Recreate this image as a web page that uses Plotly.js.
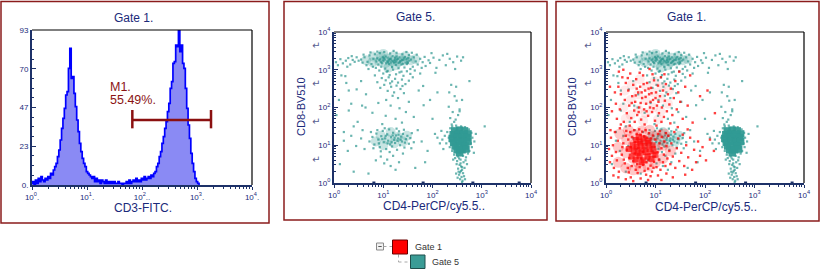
<!DOCTYPE html>
<html><head><meta charset="utf-8">
<script src="https://cdn.plot.ly/plotly-3.0.1.min.js"></script>
<style>html,body{margin:0;padding:0;background:#fff;overflow:hidden}#chart{width:827px;height:270px}</style>
</head><body><div id="chart"></div>
<script>
// ---------- DATA ----------
// Panel 1: CD3-FITC histogram (channels on a log scale, counts per channel)
const cd3FirstBinLog = 0.0;
const cd3BinStepLog = 0.025;
const cd3Counts = [1,2,0,3,1,4,2,5,3,2,4,3,5,4,7,6,9,11,13,17,21,27,34,40,46,54,56,70,82,64,65,55,47,39,32,25,20,16,13,11,8,7,6,5,4,
  5,2,4,2,3,1,3,2,1,3,1,2,1,2,1,2,1,1,2,1,1,0,1,1,2,1,3,1,2,3,2,4,2,3,2,4,3,5,3,4,5,4,6,5,7,8,11,13,17,20,25,29,34,38,
  44,49,58,62,73,74,84,83,93,80,84,73,70,58,46,36,28,19,13,8,4,2,1,0];
const cd3Ticks = ["10<sup>0</sup>.", "10<sup>1</sup>.", "10<sup>2</sup>..", "10<sup>3</sup>.", "10<sup>4</sup>."];
const countTickVals = [0, 23.25, 46.5, 69.75, 93];
const countTickText = ["0.", "23", "47", "70", "93"];
const m1Range = [66.7, 1798];
const m1Level = 39;
const m1Cap = [34, 45];
const m1Label = ["M1.", "55.49%."];

// Panels 2-3: events as [log10 CD4, log10 CD8]
const gate5Events = [
 [0.92,3.25],[1.01,3.31],[1.08,3.22],[1.15,3.29],[1.22,3.19],[1.28,3.27],[1.35,3.23],[1.42,3.30],[1.49,3.21],[0.97,3.18],
 [1.05,3.35],[1.12,3.15],[1.19,3.36],[1.26,3.13],[1.33,3.33],[1.40,3.16],[1.47,3.28],[1.53,3.24],[0.88,3.30],[0.95,3.21],
 [1.03,3.27],[1.10,3.20],[1.17,3.24],[1.24,3.32],[1.31,3.18],[1.38,3.26],[1.45,3.19],[1.51,3.31],[0.90,3.14],[0.99,3.34],
 [1.06,3.17],[1.13,3.28],[1.20,3.22],[1.27,3.35],[1.34,3.20],[1.41,3.25],[1.48,3.15],[1.56,3.27],[0.86,3.22],[1.00,3.24],
 [1.09,3.32],[1.16,3.19],[1.23,3.26],[1.30,3.29],[1.37,3.14],[1.44,3.34],[1.50,3.18],[0.94,3.28],[1.11,3.25],[1.25,3.21],
 [0.55,3.27],[0.62,3.33],[0.68,3.21],[0.72,3.38],[0.76,3.15],[0.80,3.29],[0.83,3.41],[0.79,3.08],[0.66,3.12],[0.58,3.19],
 [0.85,3.05],[0.93,3.44],[1.02,3.47],[1.14,3.43],[1.27,3.45],[1.39,3.41],[1.52,3.39],[1.62,3.33],[1.66,3.22],[1.70,3.14],
 [1.75,3.29],[1.80,3.20],[1.86,3.10],[1.60,3.08],[1.55,3.02],[1.43,3.06],[1.31,3.04],[1.18,3.07],[1.04,3.03],[0.96,3.08],
 [1.09,2.97],[1.37,2.95],[0.74,3.46],[0.60,3.40],[1.68,3.40],[1.84,3.34],[1.92,3.25],[0.50,3.24],[1.21,3.50],[0.88,3.48],
 [1.58,3.45],[1.47,3.47],[0.70,3.02],[1.78,3.05],[1.64,2.98],
 [0.04,3.20],[0.08,3.12],[0.13,3.28],[0.18,3.17],[0.24,3.24],[0.29,3.31],[0.33,3.14],[0.38,3.26],[0.42,3.21],[0.46,3.33],[0.27,3.08],[0.36,3.36],
 [1.95,3.18],[2.02,3.32],[2.08,3.05],[2.14,3.26],[2.21,3.38],[2.27,3.12],[2.35,3.29],[2.42,3.20],[2.50,3.35],[2.58,3.24],[2.06,2.92],[2.30,3.42],[2.46,3.02],[1.98,3.44],[2.62,3.33],
 [0.92,2.98],[1.00,2.90],[1.07,2.95],[1.13,2.86],[1.20,3.00],[1.26,2.88],[1.33,2.93],[1.41,2.84],[1.48,2.96],[1.55,2.89],
 [0.97,2.78],[1.05,2.72],[1.11,2.80],[1.18,2.69],[1.24,2.76],[1.30,2.66],[1.38,2.74],[1.45,2.62],[1.02,2.60],[1.16,2.55],
 [1.27,2.58],[1.35,2.49],[1.09,2.44],[1.22,2.40],[0.94,2.52],[1.42,2.38],[1.19,2.31],[1.30,2.25],[1.06,2.20],[0.88,2.67],
 [1.52,2.71],[1.60,2.80],[0.83,2.85],[1.14,2.64],[1.39,2.57],
 [0.90,2.12],[1.15,2.05],[1.33,1.98],[0.78,1.86],[1.05,1.78],[1.25,1.70],[1.46,1.88],[0.64,2.00],[1.52,2.15],[1.62,1.75],
 [0.48,1.62],[0.98,1.56],[1.38,1.60],[1.82,2.06],[2.10,2.40],[2.48,2.55],[2.60,2.20],[2.55,1.90],[0.30,2.45],[0.55,2.70],
 [0.15,2.85],[1.72,2.45],[2.00,1.70],[0.20,1.35],[3.06,1.50],[1.81,2.57],[0.23,2.83],[0.46,2.48],[0.30,1.92],[0.57,2.05],
 [0.10,2.20],[0.05,1.80],[0.35,2.10],[0.65,2.35],[0.12,0.50],[0.40,0.30],[0.70,0.25],[1.65,0.40],[1.85,0.55],[2.05,1.30],
 [1.95,2.20],[2.75,2.70],[1.75,2.90],[0.25,2.65],
 [2.38,2.60],[2.45,2.30],[2.49,2.18],[2.33,2.02],[2.41,1.88],[2.36,1.72],[2.52,1.80],[2.44,1.62],[2.39,1.55],[2.55,1.95],[2.47,1.68],[2.34,2.40],
 [0.72,1.10],[0.78,1.22],[0.82,1.02],[0.86,1.31],[0.90,1.15],[0.93,0.95],[0.96,1.24],[0.99,1.38],[1.01,1.08],[1.04,1.18],
 [1.06,0.90],[1.08,1.29],[1.10,1.12],[1.12,1.42],[1.14,1.02],[1.16,1.21],[1.18,0.97],[1.20,1.33],[1.22,1.14],[1.24,1.06],
 [1.26,1.26],[1.28,0.88],[1.30,1.18],[1.32,1.37],[1.34,1.00],[1.36,1.23],[1.38,1.10],[1.40,1.30],[1.43,0.94],[1.46,1.16],
 [1.49,1.25],[1.52,1.04],[1.55,1.19],[1.58,1.32],[1.62,1.08],[0.88,1.40],[0.95,0.84],[1.03,1.45],[1.13,0.82],[1.27,1.44],
 [1.42,1.41],[1.57,0.92],[0.80,0.92],[0.75,1.35],[1.19,1.26],[1.09,1.05],[1.29,1.12],[0.98,1.16],[1.35,1.15],[1.17,1.08],
 [1.23,1.20],[1.05,1.25],[1.31,1.28],[1.44,1.07],[0.91,1.05],
 [0.20,1.12],[0.35,1.25],[0.45,0.98],[0.55,1.18],[0.62,0.90],[0.58,1.40],[0.40,1.50],[0.28,0.85],
 [0.95,0.70],[1.08,0.62],[1.20,0.72],[1.32,0.55],[1.15,0.45],[1.25,0.35],[1.40,0.78],[1.02,0.52],[0.85,0.60],[1.70,1.40],[1.78,1.10],[1.90,0.85],
 [2.30,1.35],[2.33,1.20],[2.28,1.05],[2.35,0.95],[2.25,1.25],[2.20,1.15],[2.36,1.45],[2.40,1.50],[2.48,1.52],[2.58,1.50],
 [2.66,1.48],[2.74,1.42],[2.79,1.33],[2.81,1.20],[2.78,1.05],[2.80,0.95],[2.75,0.85],[2.72,0.78],[2.40,0.85],[2.37,1.10],
 [2.44,0.75],[2.52,0.70],[2.62,0.72],[2.68,0.68],[2.57,0.62],[2.50,0.58],[2.63,0.55],[2.55,0.48],[2.60,0.42],[2.52,0.38],
 [2.58,0.32],[2.62,0.26],[2.54,0.22],[2.59,0.16],[2.56,0.10],[2.61,0.06],[2.53,0.30],[2.65,0.40],[2.49,0.50],[2.67,0.60],
 [2.57,0.52],[2.60,0.35],[2.56,0.28],[2.64,0.18],[2.51,0.14],[2.58,0.44],[2.54,0.65],[2.46,0.66],[2.70,0.50],[2.85,1.10],
 [2.88,1.30],[2.15,1.05],[2.22,0.90],[2.10,1.20],[2.18,1.38],[2.84,0.80],[2.42,0.62],[2.60,0.02],[2.66,0.10],[2.48,0.25]
];
const gate5Core = [
 [2.45,1.38],[2.55,1.40],[2.65,1.38],[2.72,1.30],[2.42,1.28],[2.52,1.30],[2.62,1.28],[2.40,1.18],[2.50,1.20],[2.60,1.18],
 [2.70,1.20],[2.43,1.08],[2.53,1.10],[2.63,1.08],[2.72,1.10],[2.46,0.98],[2.56,1.00],[2.66,0.98],[2.50,0.88],[2.60,0.88],
 [2.68,0.90],[2.55,0.80]
];
// density haze of the CD8+ and double-negative Gate 5 populations
const gate5Haze = [
 [0.65,3.25],[0.78,3.20],[0.80,3.35],[0.92,3.22],[0.95,3.35],[1.05,3.18],[1.08,3.30],[1.18,3.22],[1.20,3.36],[1.30,3.20],
 [1.32,3.32],[1.42,3.24],[1.45,3.36],[1.55,3.25],[1.65,3.28],[1.00,3.42],[1.25,3.12],[1.10,3.05],
 [0.85,1.10],[0.95,1.25],[1.00,1.00],[1.10,1.15],[1.15,1.35],[1.22,1.05],[1.30,1.22],[1.40,1.10],[1.48,1.25]
];
const floorEvents = [0.81, 1.81, 2.82, 3.76];
const gate1Core = [
 [0.52,0.70],[0.60,0.62],[0.68,0.72],[0.76,0.60],[0.84,0.70],[0.92,0.64],[0.56,0.85],[0.64,0.80],[0.72,0.88],[0.80,0.82],
 [0.88,0.90],[0.96,0.84],[0.54,1.00],[0.62,0.96],[0.70,1.04],[0.78,0.98],[0.86,1.06],[0.94,1.00],[0.60,1.14],[0.68,1.10],
 [0.76,1.18],[0.84,1.12],[0.72,0.55],[0.66,1.22],[1.00,0.75],[0.46,0.90]
];
// density haze: lower (CD8-) and upper (CD8 dim) Gate 1 populations
const gate1HazeLow = [
 [0.25,0.55],[0.25,0.95],[0.28,1.30],[0.40,0.40],[0.40,0.80],[0.42,1.15],[0.45,1.40],[0.55,0.35],[0.55,0.65],[0.55,1.00],
 [0.58,1.28],[0.70,0.40],[0.70,0.75],[0.70,1.10],[0.72,1.38],[0.85,0.45],[0.85,0.80],[0.85,1.15],[0.88,1.40],[1.00,0.55],
 [1.00,0.90],[1.02,1.25],[1.15,0.65],[1.15,1.00],[1.18,1.30],[1.30,0.85],[0.62,0.85],[0.78,0.95],[0.92,0.70],[0.65,0.55]
];
const gate1HazeHigh = [
 [0.35,2.00],[0.38,2.45],[0.50,1.80],[0.50,2.20],[0.52,2.60],[0.65,1.95],[0.65,2.35],[0.68,2.75],[0.80,1.85],[0.80,2.20],
 [0.82,2.55],[0.95,2.00],[0.95,2.40],[0.98,2.70],[1.10,1.90],[1.10,2.25],[1.12,2.55],[1.25,2.10],[1.27,2.45],[0.40,1.70],
 [0.75,1.65],[1.05,1.68]
];
const gate1Events = [
 [0.32,0.75],[0.35,1.05],[0.38,0.52],[0.40,1.25],[0.42,0.88],[0.44,0.40],[0.45,1.15],[0.47,0.66],[0.49,1.35],[0.50,0.95],
 [0.52,0.45],[0.53,1.22],[0.55,0.58],[0.57,1.40],[0.58,0.78],[0.60,0.35],[0.62,1.30],[0.63,0.50],[0.65,0.92],[0.67,1.42],
 [0.68,0.42],[0.70,1.28],[0.71,0.65],[0.73,1.36],[0.75,0.48],[0.77,1.24],[0.78,0.32],[0.80,1.40],[0.82,0.55],[0.83,1.20],
 [0.85,0.38],[0.87,1.32],[0.88,0.78],[0.90,0.46],[0.91,1.18],[0.93,0.30],[0.95,1.26],[0.97,0.56],[0.98,0.95],[1.00,1.15],
 [1.02,0.42],[1.04,0.82],[1.05,1.30],[1.07,0.62],[1.08,1.05],[1.10,0.35],[1.12,0.92],[1.13,1.22],[1.15,0.55],[1.17,0.75],
 [1.18,1.10],[1.20,0.45],[1.22,0.98],[1.24,0.65],[1.26,1.25],[1.28,0.85],[1.30,0.50],[0.36,0.62],[0.41,1.38],[0.46,0.28],
 [0.59,1.08],[0.74,0.82],[0.86,0.62],[0.99,0.70],[1.09,1.38],[1.21,1.32],[0.33,0.95],[0.64,0.26],[0.81,0.22],[0.96,0.40],
 [0.06,0.90],[0.08,0.55],[0.10,1.20],[0.12,0.72],[0.14,1.00],[0.16,0.40],[0.18,1.35],[0.20,0.82],[0.22,0.60],[0.24,1.12],
 [0.26,0.30],[0.28,1.45],[0.15,0.20],[0.25,0.15],[0.09,1.40],[1.32,1.05],[1.35,0.70],[1.38,1.35],[1.40,0.40],[1.43,0.92],
 [1.46,1.18],[1.48,0.58],[1.52,0.80],[1.55,1.28],[1.58,0.45],[1.62,1.00],[1.66,0.68],[1.70,1.20],[1.74,0.35],[1.78,0.88],
 [1.82,0.55],[1.86,1.10],[1.90,0.72],[1.95,0.95],[2.02,0.60],[2.10,1.15],[0.50,0.15],[0.70,0.12],[0.90,0.18],[1.05,0.20],
 [1.22,0.25],[0.40,0.10],[1.60,0.22],[1.35,0.15],[2.18,0.85],[1.45,1.48],[1.65,1.42],[0.55,0.05],[0.85,0.08],[1.12,0.08],
 [0.20,2.10],[0.22,1.70],[0.25,2.55],[0.28,1.95],[0.30,2.35],[0.33,2.80],[0.36,1.62],[0.38,2.20],[0.40,2.65],[0.42,1.85],
 [0.45,2.45],[0.47,2.05],[0.49,2.90],[0.51,1.72],[0.53,2.30],[0.55,2.60],[0.57,1.92],[0.59,2.15],[0.61,2.75],[0.63,1.80],
 [0.65,2.40],[0.67,2.00],[0.69,2.55],[0.71,1.68],[0.73,2.25],[0.75,2.85],[0.77,1.95],[0.79,2.45],[0.81,2.10],[0.83,2.65],
 [0.85,1.78],[0.87,2.35],[0.89,2.00],[0.91,2.52],[0.93,1.88],[0.95,2.20],[0.97,2.72],[0.99,1.65],[1.01,2.40],[1.03,2.05],
 [1.05,2.58],[1.07,1.85],[1.09,2.30],[1.11,2.80],[1.13,2.00],[1.15,2.45],[1.17,1.75],[1.19,2.18],[1.21,2.62],[1.23,1.90],
 [1.25,2.35],[1.28,2.08],[1.31,2.50],[1.34,1.80],[1.37,2.25],[1.40,2.70],[1.43,1.95],[1.46,2.40],[1.50,2.15],[1.55,1.70],
 [0.60,2.32],[0.70,2.12],[0.80,2.28],[0.90,2.15],[1.00,2.25],[0.66,1.88],[0.76,2.62],[0.86,2.50],[0.96,1.98],[1.06,2.15],
 [0.72,2.40],[0.82,1.90],[0.92,2.38],[0.62,2.50],[0.52,2.12],[0.58,1.62],[1.12,1.62],[0.44,2.78],[0.68,2.92],[0.94,2.88],
 [1.18,2.88],[0.30,1.55],[0.18,2.40],[0.12,1.90],[1.60,2.55],[1.65,2.05],[1.70,2.85],[1.75,1.60],[0.35,3.00],[0.88,3.02],
 [0.78,1.55],[1.02,1.52],[0.48,1.52],[1.30,1.58],[0.26,2.95],[1.48,2.95],[2.05,2.45],[2.20,1.85],[1.90,2.30],[0.08,2.55]
];
const decadeTicks = ["10<sup>0</sup>", "10<sup>1</sup>", "10<sup>2</sup>", "10<sup>3</sup>", "10<sup>4</sup>"];
const panelTitles = ["Gate 1.", "Gate 5.", "Gate 1."];
const xTitles = ["CD3-FITC.", "CD4-PerCP/cy5.5..", "CD4-PerCP/cy5.5.."];
const yTitle = "CD8-BV510";
const legendItems = ["Gate 1", "Gate 5"];

// ---------- STYLE / LAYOUT ----------
const W = 827, H = 270;
const px = x => x / W, py = y => 1 - y / H;
const NAVY = '#1b2a7a', AXIS = '#1d3168', BORDER = '#8b1c1c';
const FONT = 'Liberation Sans, Arial, sans-serif';
const TEAL = '#2b968f';
const pow = v => Math.pow(10, v);
const decades = [1, 10, 100, 1000, 10000];
const minorVals = [];
for (let d = 0; d < 4; d++) for (let k = 2; k <= 9; k++) minorVals.push(k * Math.pow(10, d));
const histX = cd3Counts.map((_, i) => pow(cd3FirstBinLog + i * cd3BinStepLog));
const xs = a => a.map(p => pow(p[0])), ys = a => a.map(p => pow(p[1]));
const dots = (arr, xa, ya, marker) => ({x: xs(arr), y: ys(arr), type: 'scatter', mode: 'markers', xaxis: xa, yaxis: ya,
  marker: Object.assign({line: {width: 0}}, marker), hoverinfo: 'skip'});

const traces = [
  {x: histX, y: cd3Counts, type: 'scatter', mode: 'lines', xaxis: 'x', yaxis: 'y',
   line: {color: '#0000ff', width: 1.7, shape: 'hvh'}, fill: 'tozeroy', fillcolor: '#8a8af4', hoverinfo: 'skip'},
  {x: m1Range, y: [m1Level, m1Level], type: 'scatter', mode: 'lines', xaxis: 'x', yaxis: 'y',
   line: {color: '#8b1010', width: 2.5}, hoverinfo: 'skip'},
  {x: [m1Range[0], m1Range[0]], y: m1Cap, type: 'scatter', mode: 'lines', xaxis: 'x', yaxis: 'y',
   line: {color: '#8b1010', width: 2.5}, hoverinfo: 'skip'},
  {x: [m1Range[1], m1Range[1]], y: m1Cap, type: 'scatter', mode: 'lines', xaxis: 'x', yaxis: 'y',
   line: {color: '#8b1010', width: 2.5}, hoverinfo: 'skip'}
];
[['x2', 'y2'], ['x3', 'y3']].forEach(([xa, ya]) => {
  traces.push(dots(gate5Haze, xa, ya, {color: TEAL, size: 10, symbol: 'circle', opacity: 0.26}));
  traces.push(dots(gate5Events, xa, ya, {color: TEAL, size: 2.2, symbol: 'square', opacity: 0.7}));
  traces.push(dots(gate5Core, xa, ya, {color: '#309a93', size: 7.5, symbol: 'square', opacity: 0.95}));
  traces.push({x: floorEvents.map(pow), y: floorEvents.map(() => 1), type: 'scatter', mode: 'markers', cliponaxis: false,
    xaxis: xa, yaxis: ya, marker: {color: AXIS, size: 3, symbol: 'square'}, hoverinfo: 'skip'});
});
traces.push(dots(gate1HazeHigh, 'x3', 'y3', {color: '#ff3030', size: 10, symbol: 'circle', opacity: 0.1}));
traces.push(dots(gate1HazeLow, 'x3', 'y3', {color: '#ff1a1a', size: 11, symbol: 'circle', opacity: 0.24}));
traces.push(dots(gate1Events, 'x3', 'y3', {color: '#ff0000', size: 2.4, symbol: 'square', opacity: 0.75}));
traces.push(dots(gate1Core, 'x3', 'y3', {color: '#ff0a0a', size: 6, symbol: 'square', opacity: 0.7}));

const tickFont = {family: FONT, size: 8, color: NAVY};
function logX(domain, ticktext) {
  return {domain, type: 'log', range: [0, 4], tickvals: decades, ticktext, ticks: 'outside', ticklen: 3,
    tickcolor: AXIS, tickwidth: 1, showline: true, linecolor: AXIS, linewidth: 2, showgrid: false, zeroline: false,
    tickfont: tickFont, fixedrange: true,
    minor: {ticks: 'outside', ticklen: 2, tickcolor: AXIS, tickvals: minorVals, showgrid: false}};
}
function logY(domain, anchor) {
  return {domain, anchor, type: 'log', range: [0, 4], tickvals: decades, ticktext: decadeTicks, ticks: 'inside', ticklen: 4,
    tickcolor: AXIS, showline: true, linecolor: AXIS, linewidth: 2, showgrid: false, zeroline: false,
    tickfont: tickFont, fixedrange: true,
    minor: {ticks: 'inside', ticklen: 2, tickcolor: AXIS, tickvals: minorVals, showgrid: false}};
}

const shapes = [];
const borders = [[1, 1.5, 269, 223], [284, 1.5, 547, 220], [556, 1.5, 819, 221]];
borders.forEach(b => shapes.push({type: 'rect', xref: 'paper', yref: 'paper', x0: px(b[0]), x1: px(b[2]), y0: py(b[1]), y1: py(b[3]),
  line: {color: BORDER, width: 1.5}, layer: 'below'}));
['', '2', '3'].forEach(s => {
  const xr = 'x' + s + ' domain', yr = 'y' + s + ' domain';
  shapes.push({type: 'line', xref: xr, yref: yr, x0: 0, x1: 1, y0: 1, y1: 1, line: {color: '#000', width: 1.2}});
  shapes.push({type: 'line', xref: xr, yref: yr, x0: 1, x1: 1, y0: 0, y1: 1, line: {color: '#000', width: 1.2}});
});
shapes.push({type: 'rect', xref: 'paper', yref: 'paper', x0: px(376.5), x1: px(383.5), y0: py(243), y1: py(250),
  line: {color: '#8a8a8a', width: 1}, fillcolor: '#f2f2f2'});
shapes.push({type: 'line', xref: 'paper', yref: 'paper', x0: px(378.3), x1: px(381.7), y0: py(246.5), y1: py(246.5), line: {color: '#555', width: 1}});
[[383.5, 246.5, 392, 246.5], [398.5, 254.5, 398.5, 262], [398.5, 262, 410, 262]].forEach(l =>
  shapes.push({type: 'line', xref: 'paper', yref: 'paper', x0: px(l[0]), x1: px(l[2]), y0: py(l[1]), y1: py(l[3]),
    line: {color: '#a8a8a8', width: 1, dash: 'dot'}}));
shapes.push({type: 'rect', xref: 'paper', yref: 'paper', x0: px(392.5), x1: px(407.5), y0: py(240), y1: py(254),
  line: {color: '#6a0000', width: 1}, fillcolor: '#ff0000'});
shapes.push({type: 'rect', xref: 'paper', yref: 'paper', x0: px(410.5), x1: px(425), y0: py(255), y1: py(268.5),
  line: {color: '#1f4f4c', width: 1}, fillcolor: '#3a9c96'});

const ann = (x, y, text, o = {}) => Object.assign({xref: 'paper', yref: 'paper', x: px(x), y: py(y), text, showarrow: false,
  xanchor: 'center', yanchor: 'middle', font: {family: FONT, size: 12, color: NAVY}}, o);
const annotations = [
  ann(133, 18, panelTitles[0]), ann(415, 17, panelTitles[1]), ann(686, 17, panelTitles[2]),
  ann(143, 208, xTitles[0]), ann(434, 206, xTitles[1]), ann(706, 207, xTitles[2]),
  ann(301, 107, yTitle, {textangle: -90, font: {family: FONT, size: 11, color: NAVY}}),
  ann(572, 107, yTitle, {textangle: -90, font: {family: FONT, size: 11, color: NAVY}}),
  ann(108, 87, m1Label[0], {xanchor: 'left', font: {family: FONT, size: 12.5, color: '#8b1414'}}),
  ann(108, 100, m1Label[1], {xanchor: 'left', font: {family: FONT, size: 12.5, color: '#8b1414'}}),
  ann(413, 246.5, legendItems[0], {xanchor: 'left', font: {family: FONT, size: 9, color: '#333'}}),
  ann(430, 262, legendItems[1], {xanchor: 'left', font: {family: FONT, size: 9, color: '#333'}})
];
[3.64, 2.63, 1.62, 0.62].forEach(v => {
  ['2', '3'].forEach(s => annotations.push({xref: 'x' + s + ' domain', yref: 'y' + s, x: -0.09, y: v, text: '↵',
    showarrow: false, xanchor: 'center', font: {family: 'DejaVu Sans', size: 10, color: '#5a6090'}}));
});

const layout = {
  width: W, height: H, margin: {l: 0, r: 0, t: 0, b: 0}, paper_bgcolor: '#fff', plot_bgcolor: '#fff',
  showlegend: false, font: {family: FONT},
  xaxis: logX([px(32), px(252)], cd3Ticks),
  yaxis: {domain: [py(185), py(30)], range: [0, 93], tickvals: countTickVals, ticktext: countTickText, ticks: 'inside',
    ticklen: 4, tickcolor: AXIS, showline: true, linecolor: AXIS, linewidth: 2, showgrid: false, zeroline: false,
    tickfont: tickFont, fixedrange: true,
    minor: {ticks: 'inside', ticklen: 2, tickcolor: AXIS, tickmode: 'linear', tick0: 0, dtick: 93 / 16, showgrid: false}},
  xaxis2: Object.assign(logX([px(334), px(531)], decadeTicks), {anchor: 'y2'}),
  yaxis2: logY([py(183), py(32)], 'x2'),
  xaxis3: Object.assign(logX([px(606), px(804)], decadeTicks), {anchor: 'y3'}),
  yaxis3: logY([py(183), py(32)], 'x3'),
  shapes, annotations
};
Plotly.newPlot('chart', traces, layout, {displayModeBar: false, staticPlot: true});
</script></body></html>
